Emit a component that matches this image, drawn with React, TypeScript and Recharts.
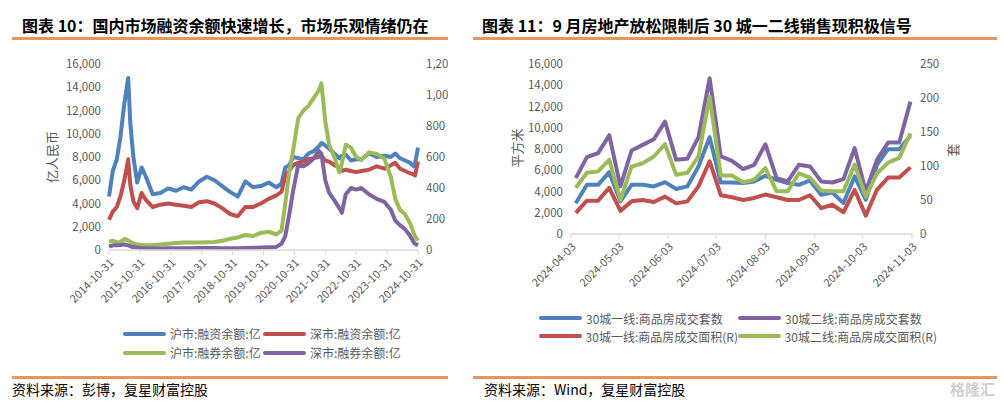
import React from "react";
import { LineChart, Line, XAxis, YAxis, Legend } from "recharts";

const FONT = '"Noto Sans CJK SC", "Noto Sans", sans-serif';
const BLUE = "#4F81BD";
const RED = "#C0504D";
const GREEN = "#9BBB59";
const PURPLE = "#8064A2";
const ORANGE = "#E8965A";
const GREY = "#595959";

// 图表10：融资融券余额（亿元）
const marginDates = [
  "2014-10-31", "2014-12-15", "2015-01-31", "2015-03-15", "2015-04-30", "2015-06-15",
  "2015-07-10", "2015-08-15", "2015-09-30", "2015-11-20", "2016-01-10", "2016-03-31",
  "2016-06-30", "2016-09-30", "2016-12-31", "2017-03-31", "2017-06-30", "2017-09-30",
  "2017-12-31", "2018-03-31", "2018-06-30", "2018-09-30", "2018-12-31", "2019-03-31",
  "2019-06-30", "2019-09-30", "2019-12-31", "2020-03-31", "2020-05-31", "2020-07-15",
  "2020-08-31", "2020-10-15", "2020-12-15", "2021-02-15", "2021-04-15", "2021-06-15",
  "2021-08-15", "2021-09-15", "2021-10-31", "2021-12-15", "2022-02-15", "2022-04-15",
  "2022-05-15", "2022-06-30", "2022-08-31", "2022-10-31", "2022-12-31", "2023-03-31",
  "2023-06-30", "2023-09-30", "2023-12-15", "2024-02-05", "2024-03-31", "2024-05-31",
  "2024-07-31", "2024-09-10", "2024-09-25", "2024-10-31",
];
const shFinancing = [
  4600, 6800, 7800, 9700, 12600, 14800, 10900, 8000, 5800, 7100, 6300, 4800,
  4900, 5300, 5100, 5400, 5200, 5900, 6300, 6000, 5500, 5000, 4600, 5900,
  5400, 5500, 5800, 5400, 5700, 7100, 7300, 8000, 7900, 7800, 8300, 8500,
  8900, 9200, 9000, 8700, 8300, 7900, 8100, 8200, 7700, 7800, 7800, 8300,
  8000, 8100, 8000, 8300, 7900, 7700, 7500, 7200, 7400, 8800,
];
const szFinancing = [
  2600, 3300, 3700, 4600, 6000, 7800, 5600, 4200, 3600, 4900, 4300, 3700,
  3900, 4000, 3900, 3800, 3700, 4100, 4200, 4000, 3600, 3100, 2900, 3700,
  3700, 4000, 4400, 4700, 5000, 6400, 6800, 7300, 7500, 7600, 7800, 7900,
  8000, 8100, 7700, 7600, 7300, 7100, 6800, 6900, 6800, 6700, 6800, 6900,
  7200, 7000, 7300, 7500, 7000, 6800, 6600, 6500, 6400, 7600,
];
const shShortSelling = [
  54, 60, 50, 52, 71, 62, 54, 42, 35, 33, 30, 30,
  35, 40, 45, 48, 48, 48, 50, 52, 60, 72, 80, 97,
  90, 110, 118, 100, 125, 300, 500, 640, 850, 900, 930, 980,
  1030, 1075, 830, 680, 600, 500, 560, 680, 660, 600, 580, 630,
  620, 590, 470, 330, 260, 230, 170, 110, 90, 60,
];
const szShortSelling = [
  22, 30, 30, 32, 35, 30, 25, 17, 15, 13, 12, 10,
  10, 11, 11, 12, 12, 13, 13, 13, 12, 12, 11, 13,
  14, 16, 18, 20, 40, 90, 230, 380, 550, 540, 560, 590,
  640, 620, 450, 370, 320, 270, 240, 360, 400, 390, 400, 360,
  330, 310, 260, 190, 160, 135, 90, 50, 40, 30,
];
const marginTicks = [
  "2014-10-31", "2015-10-31", "2016-10-31", "2017-10-31", "2018-10-31", "2019-10-31",
  "2020-10-31", "2021-10-31", "2022-10-31", "2023-10-31", "2024-10-31",
];
const marginLeftTicks = [0, 2000, 4000, 6000, 8000, 10000, 12000, 14000, 16000];
const marginRightTicks = [0, 200, 400, 600, 800, 1000, 1200];

// 图表11：30城商品房成交（周度）
const weekDates = [
  "2024-04-06", "2024-04-13", "2024-04-20", "2024-04-27", "2024-05-04", "2024-05-11",
  "2024-05-18", "2024-05-25", "2024-06-01", "2024-06-08", "2024-06-15", "2024-06-22",
  "2024-06-29", "2024-07-06", "2024-07-13", "2024-07-20", "2024-07-27", "2024-08-03",
  "2024-08-10", "2024-08-17", "2024-08-24", "2024-08-31", "2024-09-07", "2024-09-14",
  "2024-09-21", "2024-09-28", "2024-10-05", "2024-10-12", "2024-10-19", "2024-10-26",
  "2024-11-02",
];
const tier1Units = [
  2900, 4630, 4630, 5820, 3070, 4630, 4630, 4480, 4880, 4230, 4480, 6360,
  9110, 4850, 4850, 4790, 4950, 5480, 5100, 4790, 4630, 5040, 3690, 3910,
  2910, 5420, 3220, 6510, 7980, 7980, 9240,
];
const tier2Units = [
  5260, 7230, 7610, 9300, 4480, 7860, 8390, 8920, 10580, 6980, 7080, 9110,
  14650, 7300, 6890, 6100, 6510, 8450, 5260, 4950, 6510, 6360, 4950, 4850,
  5170, 8080, 4010, 6980, 8610, 8610, 12460,
];
const tier1Area = [
  31, 49, 49, 68, 34, 48, 50, 47, 55, 45, 48, 70,
  107, 57, 54, 50, 53, 58, 54, 50, 50, 57, 38, 43,
  32, 65, 27, 65, 83, 83, 98,
];
const tier2Area = [
  68, 90, 92, 109, 50, 99, 104, 114, 132, 87, 90, 114,
  202, 86, 86, 76, 80, 97, 63, 63, 89, 83, 64, 63,
  63, 102, 55, 89, 105, 112, 148,
];
const weekTicks = [
  "2024-04-03", "2024-05-03", "2024-06-03", "2024-07-03",
  "2024-08-03", "2024-09-03", "2024-10-03", "2024-11-03",
];
const houseLeftTicks = [0, 2000, 4000, 6000, 8000, 10000, 12000, 14000, 16000];
const houseRightTicks = [0, 50, 100, 150, 200, 250];

// legend order as in the reference (row by row)
const marginLegend = [
  { name: "沪市:融资余额:亿", color: BLUE },
  { name: "深市:融资余额:亿", color: RED },
  { name: "沪市:融券余额:亿", color: GREEN },
  { name: "深市:融券余额:亿", color: PURPLE },
];
const houseLegend = [
  { name: "30城一线:商品房成交套数", color: BLUE },
  { name: "30城二线:商品房成交套数", color: PURPLE },
  { name: "30城一线:商品房成交面积(R)", color: RED },
  { name: "30城二线:商品房成交面积(R)", color: GREEN },
];

const toTs = (s: string) => Date.parse(s + "T00:00:00Z");
const fmtDate = (v: number) => new Date(v).toISOString().slice(0, 10);
const fmtNum = (v: number) => v.toLocaleString("en-US");

const marginData = marginDates.map((d, i) => ({
  t: toTs(d),
  shF: shFinancing[i],
  szF: szFinancing[i],
  shS: shShortSelling[i],
  szS: szShortSelling[i],
}));

const houseData = weekDates.map((d, i) => ({
  t: toTs(d),
  u1: tier1Units[i],
  u2: tier2Units[i],
  a1: tier1Area[i],
  a2: tier2Area[i],
}));

const tickStyle = { fill: GREY, fontSize: 11.5, fontFamily: FONT };
const xTickStyle = { fill: GREY, fontSize: 11, fontFamily: FONT };

const makeLegend = (items: { name: string; color: string }[], colW: number, rowH: number) => () => (
  <div
    style={{
      display: "grid",
      gridTemplateColumns: `${colW}px ${colW}px`,
      fontFamily: FONT,
      fontSize: 12,
      color: GREY,
    }}
  >
    {items.map((p) => (
      <div
        key={p.name}
        style={{ display: "flex", alignItems: "center", height: rowH, whiteSpace: "nowrap" }}
      >
        <span
          style={{
            display: "inline-block",
            width: 43,
            height: 4,
            borderRadius: 2,
            background: p.color,
            marginRight: 4,
          }}
        />
        <span>{p.name}</span>
      </div>
    ))}
  </div>
);

const vLabel = (text: string, cx: number, cy: number) => (
  <div
    style={{
      position: "absolute",
      left: cx,
      top: cy,
      transform: "translate(-50%, -50%) rotate(-90deg)",
      fontSize: 13,
      color: GREY,
      whiteSpace: "nowrap",
      lineHeight: "16px",
    }}
  >
    {text}
  </div>
);

function MarginChart() {
  return (
    <div style={{ position: "absolute", left: 0, top: 0, width: 448, height: 372, overflow: "hidden" }}>
      <LineChart
        width={448}
        height={372}
        data={marginData}
        margin={{ top: 64, right: 0, bottom: 0, left: 0 }}
      >
        <XAxis
          dataKey="t"
          type="number"
          scale="linear"
          domain={[toTs(marginTicks[0]), toTs(marginTicks[marginTicks.length - 1])]}
          ticks={marginTicks.map(toTs)}
          tickFormatter={fmtDate}
          interval={0}
          angle={-45}
          textAnchor="end"
          height={122}
          tick={xTickStyle}
          tickSize={5}
          tickMargin={3}
          axisLine={{ stroke: "#D9D9D9", strokeWidth: 1.5 }}
          tickLine={{ stroke: "#D9D9D9" }}
        />
        <YAxis
          yAxisId="left"
          orientation="left"
          width={109}
          domain={[0, 16000]}
          ticks={marginLeftTicks}
          tickFormatter={fmtNum}
          axisLine={false}
          tickLine={false}
          tick={tickStyle}
        />
        <YAxis
          yAxisId="right"
          orientation="right"
          width={30}
          domain={[0, 1200]}
          ticks={marginRightTicks}
          tickFormatter={fmtNum}
          axisLine={false}
          tickLine={false}
          tick={tickStyle}
        />
        <Legend
          layout="horizontal"
          verticalAlign="middle"
          align="center"
          wrapperStyle={{ left: 123, top: 324, width: 300, height: 40 }}
          content={makeLegend(marginLegend, 140, 19)}
        />
        <Line yAxisId="left" name="沪市:融资余额:亿" dataKey="shF" stroke={BLUE} strokeWidth={4} dot={false} isAnimationActive={false} strokeLinejoin="round" />
        <Line yAxisId="left" name="深市:融资余额:亿" dataKey="szF" stroke={RED} strokeWidth={4} dot={false} isAnimationActive={false} strokeLinejoin="round" />
        <Line yAxisId="right" name="沪市:融券余额:亿" dataKey="shS" stroke={GREEN} strokeWidth={4} dot={false} isAnimationActive={false} strokeLinejoin="round" />
        <Line yAxisId="right" name="深市:融券余额:亿" dataKey="szS" stroke={PURPLE} strokeWidth={4} dot={false} isAnimationActive={false} strokeLinejoin="round" />
      </LineChart>
    </div>
  );
}

function HouseChart() {
  return (
    <div style={{ position: "absolute", left: 470, top: 0, width: 530, height: 360 }}>
      <LineChart
        width={530}
        height={360}
        data={houseData}
        margin={{ top: 64, right: 0, bottom: 0, left: 0 }}
      >
        <XAxis
          dataKey="t"
          type="number"
          scale="linear"
          domain={[toTs(weekTicks[0]), toTs(weekTicks[weekTicks.length - 1])]}
          ticks={weekTicks.map(toTs)}
          tickFormatter={fmtDate}
          interval={0}
          angle={-45}
          textAnchor="end"
          height={126}
          tick={xTickStyle}
          tickSize={5}
          tickMargin={3}
          axisLine={{ stroke: "#D9D9D9", strokeWidth: 1.5 }}
          tickLine={{ stroke: "#D9D9D9" }}
        />
        <YAxis
          yAxisId="left"
          orientation="left"
          width={101}
          domain={[0, 16000]}
          ticks={houseLeftTicks}
          tickFormatter={fmtNum}
          axisLine={false}
          tickLine={false}
          tick={tickStyle}
        />
        <YAxis
          yAxisId="right"
          orientation="right"
          width={88}
          domain={[0, 250]}
          ticks={houseRightTicks}
          axisLine={false}
          tickLine={false}
          tick={tickStyle}
        />
        <Legend
          layout="horizontal"
          verticalAlign="middle"
          align="center"
          wrapperStyle={{ left: 69, top: 309, width: 420, height: 36 }}
          content={makeLegend(houseLegend, 199, 18)}
        />
        <Line yAxisId="left" name="30城一线:商品房成交套数" dataKey="u1" stroke={BLUE} strokeWidth={4} dot={false} isAnimationActive={false} strokeLinejoin="round" />
        <Line yAxisId="left" name="30城二线:商品房成交套数" dataKey="u2" stroke={PURPLE} strokeWidth={4} dot={false} isAnimationActive={false} strokeLinejoin="round" />
        <Line yAxisId="right" name="30城一线:商品房成交面积(R)" dataKey="a1" stroke={RED} strokeWidth={4} dot={false} isAnimationActive={false} strokeLinejoin="round" />
        <Line yAxisId="right" name="30城二线:商品房成交面积(R)" dataKey="a2" stroke={GREEN} strokeWidth={4} dot={false} isAnimationActive={false} strokeLinejoin="round" />
      </LineChart>
    </div>
  );
}

const titleStyle: React.CSSProperties = {
  position: "absolute",
  top: 15,
  fontSize: 16,
  fontWeight: 700,
  lineHeight: "20px",
  color: "#000",
  whiteSpace: "nowrap",
};
const sourceStyle: React.CSSProperties = {
  position: "absolute",
  top: 380,
  fontSize: 14,
  lineHeight: "18px",
  color: "#000",
  whiteSpace: "nowrap",
};
const rule = (left: number, top: number, width: number) => (
  <div style={{ position: "absolute", left, top, width, height: 2.5, background: ORANGE }} />
);

export default function App() {
  return (
    <div
      style={{
        position: "absolute",
        left: 0,
        top: 0,
        width: 1006,
        height: 411,
        background: "#fff",
        fontFamily: FONT,
        overflow: "hidden",
      }}
    >
      <div style={{ ...titleStyle, left: 22 }}>图表 10：国内市场融资余额快速增长，市场乐观情绪仍在</div>
      <div style={{ ...titleStyle, left: 482 }}>图表 11：9 月房地产放松限制后 30 城一二线销售现积极信号</div>
      {rule(12, 37, 436)}
      {rule(473, 37, 524)}

      <MarginChart />
      <HouseChart />

      {vLabel("亿人民币", 52, 157)}
      {vLabel("平方米", 517, 148)}
      {vLabel("套", 953, 150)}

      {rule(12, 376, 436)}
      {rule(473, 376, 524)}
      <div style={{ ...sourceStyle, left: 12 }}>资料来源：彭博，复星财富控股</div>
      <div style={{ ...sourceStyle, left: 484 }}>资料来源：Wind，复星财富控股</div>
      <div
        style={{
          position: "absolute",
          left: 950,
          top: 379,
          fontSize: 15,
          lineHeight: "20px",
          color: "#D0D0D0",
          fontWeight: 700,
        }}
      >
        格隆汇
      </div>
    </div>
  );
}
